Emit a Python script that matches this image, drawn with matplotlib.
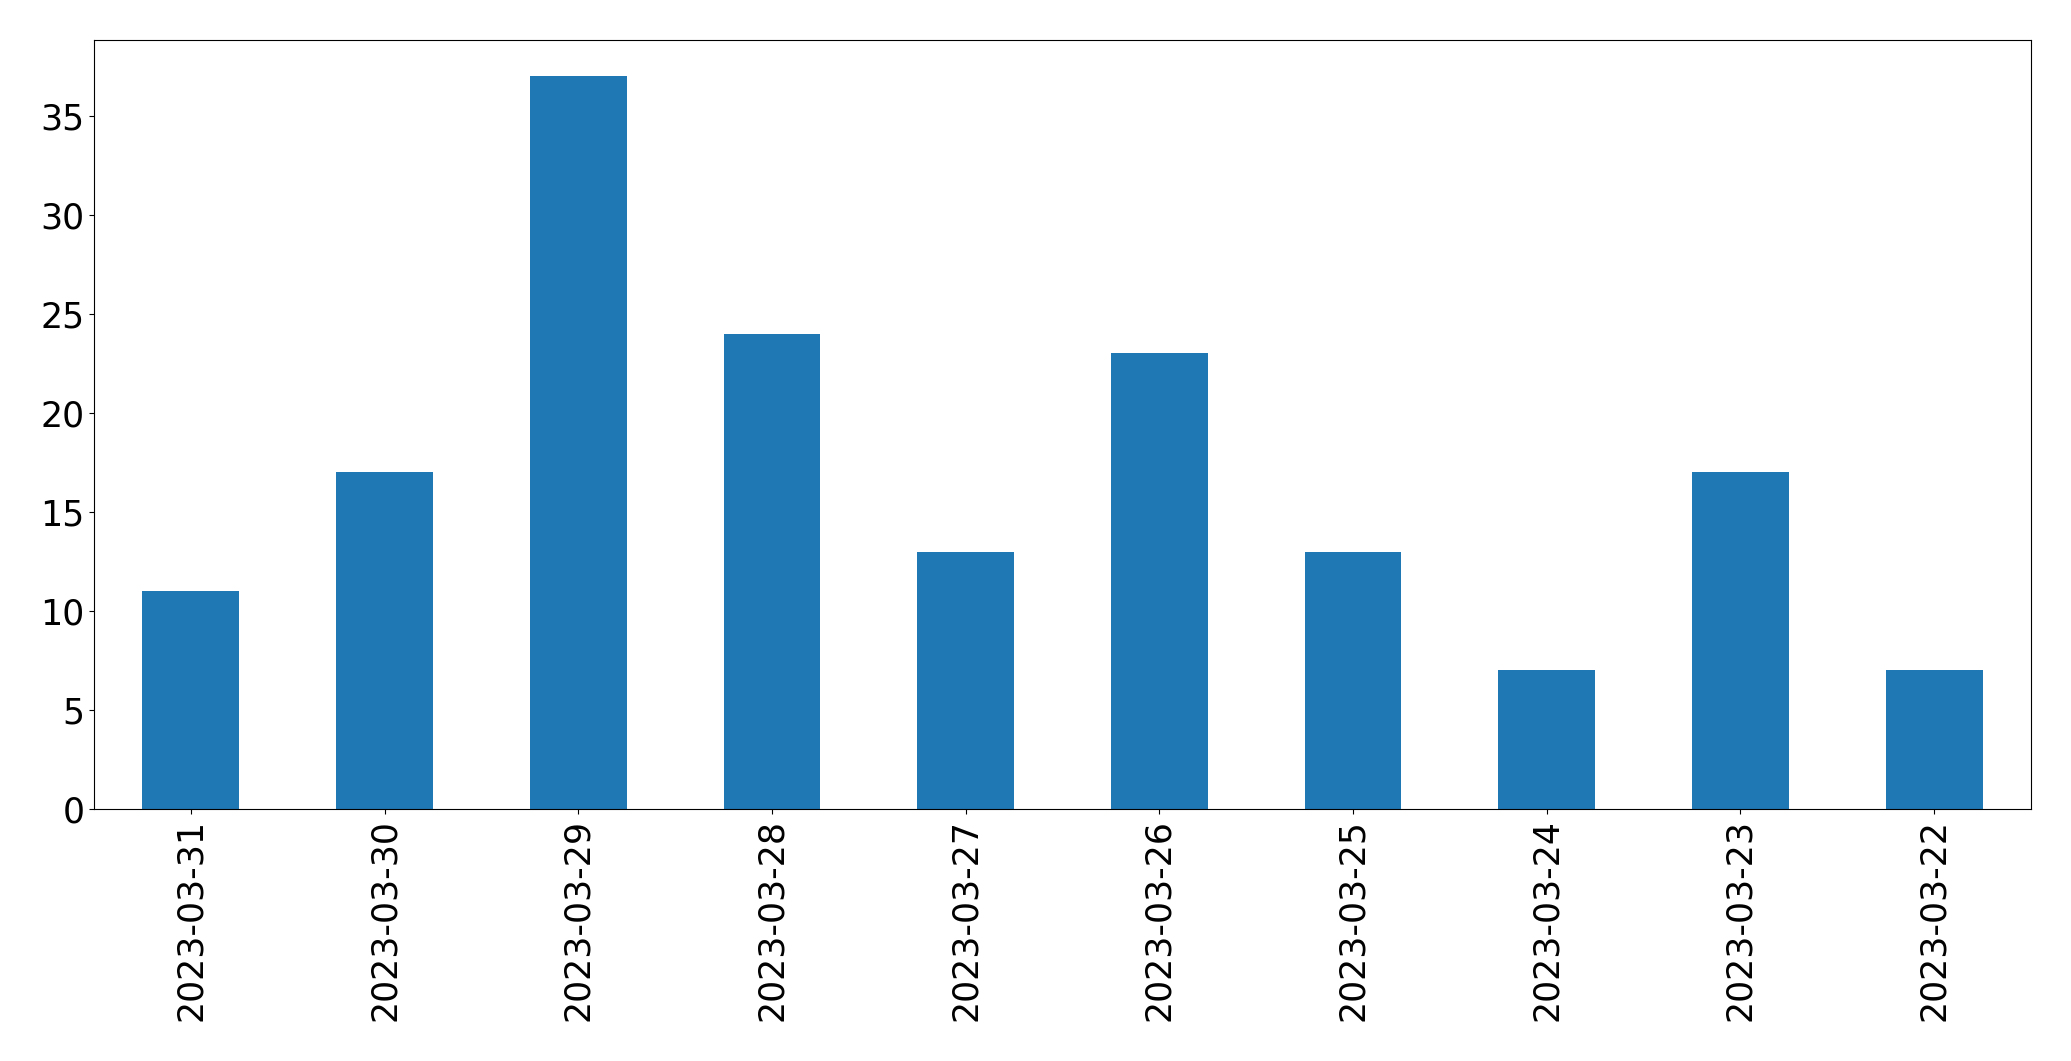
import matplotlib
matplotlib.use("Agg")
import matplotlib.pyplot as plt

dates = ["2023-03-31", "2023-03-30", "2023-03-29", "2023-03-28", "2023-03-27",
         "2023-03-26", "2023-03-25", "2023-03-24", "2023-03-23", "2023-03-22"]
counts = [11, 17, 37, 24, 13, 23, 13, 7, 17, 7]

fig = plt.figure(figsize=(20.71, 10.61), dpi=100)
ax = fig.add_axes([94/2071, 1 - 809/1061, (2031 - 94)/2071, (809 - 39.5)/1061])
x = list(range(len(dates)))
ax.bar(x, counts, width=0.5, color="#1f77b4")
ax.set_xlim(-0.5, len(dates) - 0.5)
ax.set_ylim(0, max(counts) * 1.05)
ax.set_xticks(x)
ax.set_xticklabels(dates, rotation=90)
ax.tick_params(axis="both", labelsize=25)
fig.savefig("out.png", dpi=100)
